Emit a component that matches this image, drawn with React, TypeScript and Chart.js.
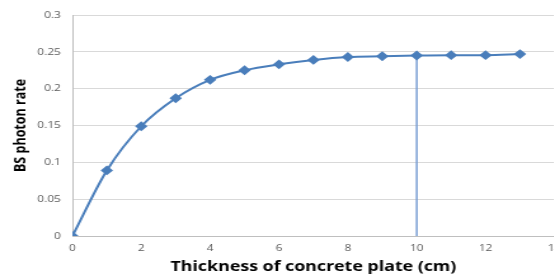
import React, { useEffect, useRef } from "react";
import { Chart, registerables } from "chart.js";

Chart.register(...registerables);

const thickness = [0, 1, 2, 3, 4, 5, 6, 7, 8, 9, 10, 11, 12, 13];
const photonRate = [0, 0.089, 0.149, 0.187, 0.212, 0.225, 0.233, 0.239, 0.243, 0.244, 0.245, 0.2455, 0.2455, 0.247];
const markerX = [10, 10];
const markerY = [0, 0.245];
const yTicks = [0, 0.05, 0.1, 0.15, 0.2, 0.25, 0.3];
const xTicks = [0, 2, 4, 6, 8, 10, 12, 14];

const STRETCH = 1.27;
const CANVAS_W = 449;
const CANVAS_H = 277;

export default function App() {
  const ref = useRef<HTMLCanvasElement>(null);
  useEffect(() => {
    if (!ref.current) return;
    const chart = new Chart(ref.current, {
      type: "line",
      data: {
        datasets: [
          {
            data: thickness.map((x, i) => ({ x, y: photonRate[i] })),
            borderColor: "#4a7ebb",
            backgroundColor: "#4a7ebb",
            borderWidth: 2,
            tension: 0.4,
            cubicInterpolationMode: "monotone",
            pointStyle: "rectRot",
            pointRadius: 3.5,
            pointBackgroundColor: "#4a7ebb",
            pointBorderColor: "#4a7ebb",
          },
          {
            data: markerX.map((x, i) => ({ x, y: markerY[i] })),
            borderColor: "#7a9fd4",
            borderWidth: 1.5,
            pointRadius: 0,
          },
        ],
      },
      options: {
        animation: false,
        responsive: false,
        maintainAspectRatio: false,
        layout: { padding: { top: 15, right: 7.5, left: 0, bottom: 0 } },
        plugins: { legend: { display: false }, tooltip: { enabled: false } },
        scales: {
          x: {
            type: "linear",
            min: 0,
            max: 14,
            afterBuildTicks: (s: any) => {
              s.ticks = xTicks.map((v) => ({ value: v }));
            },
            afterFit: (s: any) => {
              s.height = 41;
            },
            grid: { display: false, drawTicks: false },
            border: { color: "#bfbfbf", width: 1 },
            ticks: {
              color: "#595959",
              font: { family: "Open Sans", size: 9.5 },
              padding: 7,
              maxRotation: 0,
            },
            title: {
              display: true,
              text: "Thickness of concrete plate (cm)",
              color: "#000000",
              font: { family: "Open Sans", size: 14, weight: "bold" },
              padding: { top: 2, bottom: 2 },
            },
          },
          y: {
            min: 0,
            max: 0.3,
            afterBuildTicks: (s: any) => {
              s.ticks = yTicks.map((v) => ({ value: v }));
            },
            afterFit: (s: any) => {
              s.width = 57;
            },
            grid: { color: "#d9d9d9", lineWidth: 1, drawTicks: false },
            border: { color: "#bfbfbf", width: 1 },
            ticks: {
              color: "#595959",
              font: { family: "Open Sans", size: 9.5 },
              padding: 9,
              callback: (v: any) => String(Math.round(Number(v) * 100) / 100),
            },
            title: {
              display: true,
              text: "BS photon rate",
              color: "#000000",
              font: { family: "Open Sans", size: 12.5, weight: "bold" },
              padding: { top: 9, bottom: 2 },
            },
          },
        },
      },
    });
    return () => chart.destroy();
  }, []);
  return (
    <div
      style={{
        position: "fixed",
        left: 0,
        top: 0,
        width: 554,
        height: 277,
        overflow: "hidden",
        background: "#ffffff",
      }}
    >
      <div
        style={{
          width: CANVAS_W,
          height: CANVAS_H,
          transform: `scaleX(${STRETCH})`,
          transformOrigin: "0 0",
        }}
      >
        <canvas ref={ref} width={CANVAS_W} height={CANVAS_H} />
      </div>
    </div>
  );
}
